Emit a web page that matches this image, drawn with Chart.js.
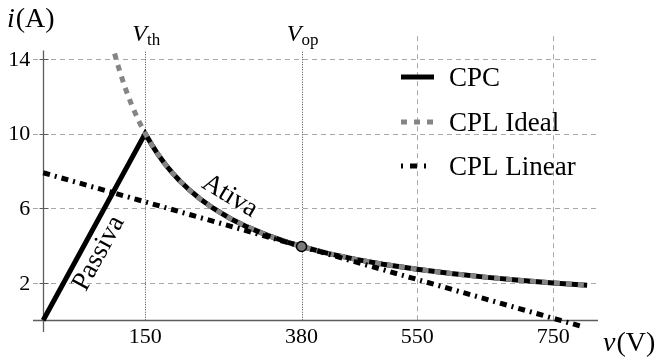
<!DOCTYPE html>
<html><head><meta charset="utf-8">
<script src="https://cdn.jsdelivr.net/npm/chart.js@4.4.0/dist/chart.umd.min.js"></script>
<style>html,body{margin:0;padding:0;background:#fff;}#wrap{width:659px;height:358px;}</style>
</head><body><div id="wrap"><canvas id="c" width="659" height="358"></canvas></div>
<script>
// ---- data ----
const cpcV   = [0, 150, 160, 170, 180, 190, 200, 215, 230, 250, 275, 300, 330, 360, 380, 420, 460, 500, 550, 600, 650, 700, 750, 800];
const cpcI   = [0, 10, 9.38, 8.82, 8.33, 7.89, 7.5, 6.98, 6.52, 6, 5.45, 5, 4.55, 4.17, 3.95, 3.57, 3.26, 3, 2.73, 2.5, 2.31, 2.14, 2, 1.88];
const idealV = [105, 110, 120, 130, 140, 150, 160, 170, 180, 190, 200, 215, 230, 250, 275, 300, 330, 360, 380, 420, 460, 500, 550, 600, 650, 700, 750, 800];
const idealI = [14.29, 13.64, 12.5, 11.54, 10.71, 10, 9.38, 8.82, 8.33, 7.89, 7.5, 6.98, 6.52, 6, 5.45, 5, 4.55, 4.17, 3.95, 3.57, 3.26, 3, 2.73, 2.5, 2.31, 2.14, 2, 1.88];
const linearV = [0, 790];
const linearI = [7.9, -0.31];
const opV = [380];
const opI = [3.95];
const xTicks = [150, 380, 550, 750];
const yTicks = [2, 6, 10, 14];
const markV = [150, 380];              // V_th, V_op
const markLabels = [['V', 'th'], ['V', 'op']];
const seriesNames = ['CPC', 'CPL Ideal', 'CPL Linear'];

const pts = (xs, ys) => xs.map((v, k) => ({x: v, y: ys[k]}));
const FONT = '"Liberation Serif", "Times New Roman", serif';

const deco = {
  id: 'deco',
  beforeDatasetsDraw(chart) {
    const {ctx, scales: {x, y}} = chart;
    const X = v => x.getPixelForValue(v), Y = i => y.getPixelForValue(i);
    ctx.save();
    ctx.strokeStyle = '#a8a8a8'; ctx.lineWidth = 1; ctx.setLineDash([5, 4]);
    yTicks.forEach(t => {
      const py = Math.round(Y(t)) + 0.5;
      ctx.beginPath(); ctx.moveTo(X(-15), py); ctx.lineTo(X(816), py); ctx.stroke();
    });
    xTicks.forEach(t => {
      if (markV.includes(t)) return;
      const px = Math.round(X(t)) + 0.5;
      ctx.beginPath(); ctx.moveTo(px, Y(0)); ctx.lineTo(px, Y(15.28)); ctx.stroke();
    });
    ctx.strokeStyle = '#444'; ctx.setLineDash([1, 1.5]);
    markV.forEach(t => {
      const px = Math.round(X(t)) + 0.5;
      ctx.beginPath(); ctx.moveTo(px, Y(0)); ctx.lineTo(px, Y(14.45)); ctx.stroke();
    });
    ctx.setLineDash([]); ctx.strokeStyle = '#5c5c5c'; ctx.lineWidth = 1.3;
    const y0 = Math.round(Y(0)) + 0.5, x0 = Math.round(X(0)) + 0.5;
    ctx.beginPath(); ctx.moveTo(X(-15), y0); ctx.lineTo(X(816), y0); ctx.stroke();
    ctx.beginPath(); ctx.moveTo(x0, Y(-0.63)); ctx.lineTo(x0, Y(14.45)); ctx.stroke();
    ctx.lineWidth = 1;
    yTicks.forEach(t => {
      const py = Math.round(Y(t)) + 0.5;
      ctx.beginPath(); ctx.moveTo(x0 - 4, py); ctx.lineTo(x0 + 5, py); ctx.stroke();
    });
    ctx.restore();
  },
  afterDraw(chart) {
    const {ctx, scales: {x, y}} = chart;
    const X = v => x.getPixelForValue(v), Y = i => y.getPixelForValue(i);
    ctx.save();
    ctx.fillStyle = '#000';
    ctx.font = '22px ' + FONT;
    ctx.textAlign = 'center'; ctx.textBaseline = 'alphabetic';
    xTicks.forEach(t => ctx.fillText(String(t), X(t), Y(0) + 23));
    ctx.textAlign = 'right'; ctx.textBaseline = 'middle';
    yTicks.forEach(t => ctx.fillText(String(t), X(0) - 13, Y(t) + 1));
    markV.forEach((t, k) => {
      const [a, b] = markLabels[k];
      ctx.textAlign = 'left'; ctx.textBaseline = 'alphabetic';
      ctx.font = 'italic 24px ' + FONT; const wa = ctx.measureText(a).width;
      ctx.font = '17px ' + FONT; const wb = ctx.measureText(b).width;
      const sx = X(t) + 1 - (wa + wb) / 2;
      ctx.font = 'italic 24px ' + FONT; ctx.fillText(a, sx, 41);
      ctx.font = '17px ' + FONT; ctx.fillText(b, sx + wa, 45);
    });
    ctx.textAlign = 'left'; ctx.textBaseline = 'alphabetic';
    const title = (it, rest, px, py) => {
      ctx.font = 'italic 28px ' + FONT; ctx.fillText(it, px, py);
      const w = ctx.measureText(it).width;
      ctx.font = '28px ' + FONT; ctx.fillText(rest, px + w + 1, py);
    };
    title('i', '(A)', 7, 27);
    title('v', '(V)', 603, 351);
    ctx.font = '27px ' + FONT; ctx.textAlign = 'center';
    ctx.save(); ctx.translate(X(91), Y(3.4)); ctx.rotate(-61.4 * Math.PI / 180);
    ctx.fillText('Passiva', 0, 0); ctx.restore();
    ctx.save(); ctx.translate(X(269), Y(6.32)); ctx.rotate(31 * Math.PI / 180);
    ctx.fillText('Ativa', 0, 0); ctx.restore();
    const ds = chart.data.datasets;
    const rows = [86, 131, 175];
    ctx.textAlign = 'left'; ctx.font = '27px ' + FONT;
    seriesNames.forEach((name, k) => {
      const d = ds[k];
      const ly = rows[k] - 9;
      ctx.save();
      ctx.strokeStyle = d.borderColor; ctx.lineWidth = d.borderWidth; ctx.lineCap = 'butt';
      if (k === 1) ctx.setLineDash([6, 7]);
      else if (k === 2) ctx.setLineDash([2, 7, 7, 7, 2, 50]);
      else ctx.setLineDash([]);
      ctx.beginPath(); ctx.moveTo(401, ly); ctx.lineTo(434, ly); ctx.stroke();
      ctx.restore();
      ctx.fillText(name, 449, rows[k]);
    });
    ctx.restore();
  }
};

new Chart(document.getElementById('c'), {
  type: 'line',
  data: {
    datasets: [
      {label: seriesNames[0], order: 4, data: pts(cpcV, cpcI), borderColor: '#000', borderWidth: 5, pointRadius: 0, tension: 0, borderJoinStyle: 'miter'},
      {label: seriesNames[1], order: 3, data: pts(idealV, idealI), borderColor: '#858585', borderWidth: 5, borderDash: [6, 6], pointRadius: 0, tension: 0},
      {label: seriesNames[2], order: 2, data: pts(linearV, linearI), borderColor: '#000', borderWidth: 5, borderDash: [7, 5, 2, 5], pointRadius: 0, tension: 0},
      {label: 'op', order: 1, data: pts(opV, opI), showLine: false, pointRadius: 5, pointBackgroundColor: '#7a7a7a', pointBorderColor: '#000', pointBorderWidth: 1.5}
    ]
  },
  options: {
    responsive: false, animation: false, devicePixelRatio: 1,
    layout: {padding: {left: 33, right: 61, top: 35, bottom: 26}},
    scales: {
      x: {type: 'linear', min: -15, max: 816, display: false},
      y: {type: 'linear', min: -0.63, max: 15.28, display: false}
    },
    plugins: {legend: {display: false}, tooltip: {enabled: false}},
    events: []
  },
  plugins: [deco]
});
</script>
</body></html>
